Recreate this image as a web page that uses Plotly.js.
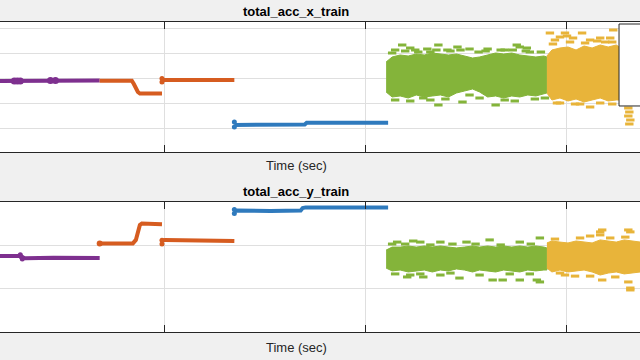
<!DOCTYPE html>
<html>
<head>
<meta charset="utf-8">
<script src="https://cdn.plot.ly/plotly-3.0.1.min.js"></script>
<style>
  html, body { margin:0; padding:0; width:640px; height:360px; overflow:hidden; background:#f0f0f0; }
  #chart { position:absolute; left:-60px; top:0; width:760px; height:360px; }
</style>
</head>
<body>
<div id="chart"></div>
<script>
// ---------- data ----------
const xTicks = [200, 400, 600];
const topYTicks = [1.2, 1.0, 0.8, 0.6, 0.4];
const botYTicks = [0.4, 0.2, 0.0, -0.2];

// top panel: total_acc_x_train
const purpleTopX = [31, 49, 60, 84, 95, 136];
const purpleTopY = [0.784, 0.784, 0.786, 0.788, 0.788, 0.788];
const purpleTopBlobX = [51, 54, 57, 87, 92];
const purpleTopBlobY = [0.784, 0.784, 0.784, 0.788, 0.788];
const orangeTopAX = [136, 168, 170, 172, 174, 176, 198];
const orangeTopAY = [0.786, 0.786, 0.760, 0.728, 0.696, 0.684, 0.684];
const orangeTopBX = [198, 201, 270];
const orangeTopBY = [0.792, 0.792, 0.792];
const orangeTopBlobX = [198, 198];
const orangeTopBlobY = [0.804, 0.776];
const blueTopX = [270, 273, 306, 340, 342, 376, 423];
const blueTopY = [0.432, 0.432, 0.434, 0.436, 0.450, 0.450, 0.450];
const blueTopBlobX = [270, 270];
const blueTopBlobY = [0.456, 0.416];

const greenX = [421, 427, 435, 443, 451, 459, 467, 475, 483, 491, 499, 507, 514, 522, 530, 538, 546, 554, 562, 570, 578, 581];
const greenTopUp = [0.936, 0.976, 0.992, 0.984, 1.0, 0.992, 1.008, 1.0, 0.992, 1.0, 0.984, 0.968, 0.976, 0.992, 1.008, 1.0, 1.008, 0.992, 0.984, 0.976, 0.984, 0.976];
const greenTopLo = [0.696, 0.656, 0.664, 0.648, 0.672, 0.656, 0.664, 0.672, 0.656, 0.688, 0.704, 0.72, 0.696, 0.656, 0.664, 0.648, 0.664, 0.656, 0.672, 0.664, 0.68, 0.688];
const greenTopDotX = [430, 437, 445, 453, 458, 465, 473, 473, 482, 492, 497, 504, 522, 530, 539, 551, 554, 561, 564,
                      427, 440, 450, 462, 471, 485, 495, 513, 520, 535, 547, 560, 575,
                      430, 445, 465, 480, 504, 514, 539, 549, 569, 579];
const greenTopDotY = [1.032, 1.072, 1.048, 1.016, 0.648, 1.016, 1.072, 0.592, 1.032, 1.056, 0.616, 1.04, 1.04, 0.592, 1.032, 1.072, 1.056, 1.048, 1.016,
                      1.008, 1.024, 1.032, 1.04, 1.032, 1.024, 1.032, 1.016, 1.024, 1.032, 1.032, 1.024, 1.016,
                      0.632, 0.624, 0.632, 0.64, 0.672, 0.648, 0.632, 0.624, 0.64, 0.648];

const yellowX = [581, 586, 594, 602, 610, 618, 626, 634, 642, 650, 658, 674, 694];
const yellowTopUp = [0.984, 1.032, 1.048, 1.056, 1.032, 1.064, 1.048, 1.072, 1.056, 1.072, 1.032, 1.032, 1.032];
const yellowTopLo = [0.688, 0.632, 0.648, 0.624, 0.64, 0.616, 0.632, 0.648, 0.624, 0.632, 0.632, 0.632, 0.632];
const yellowTopDotX = [584, 589, 594, 599, 601, 607, 616, 624, 634, 639, 644, 647, 591, 609, 624, 662, 663, 662, 664, 663,
                       587, 604, 619, 631, 646, 594, 614, 634, 646];
const yellowTopDotY = [1.168, 1.112, 1.136, 1.168, 1.144, 1.128, 1.168, 1.112, 1.128, 1.096, 1.128, 1.192, 0.608, 0.6, 0.576, 0.568, 0.536, 0.504, 0.472, 0.44,
                       1.08, 1.096, 1.088, 1.104, 1.096, 0.608, 0.6, 0.608, 0.6];

// bottom panel: total_acc_y_train
const purpleBotX = [31, 47, 56, 62, 70, 90, 136];
const purpleBotY = [0.151, 0.151, 0.151, 0.140, 0.142, 0.143, 0.142];
const purpleBotBlobX = [57, 59, 58];
const purpleBotBlobY = [0.157, 0.137, 0.147];
const orangeBotAX = [136, 139, 169, 172, 174, 176, 178, 198];
const orangeBotAY = [0.209, 0.209, 0.209, 0.225, 0.262, 0.294, 0.301, 0.297];
const orangeBotABlobX = [136];
const orangeBotABlobY = [0.209];
const orangeBotBX = [198, 201, 270];
const orangeBotBY = [0.222, 0.225, 0.220];
const orangeBotBBlobX = [198, 198];
const orangeBotBBlobY = [0.224, 0.206];
const blueBotX = [270, 273, 306, 336, 338, 341, 423];
const blueBotY = [0.358, 0.361, 0.358, 0.361, 0.372, 0.375, 0.375];
const blueBotBlobX = [270, 270];
const blueBotBlobY = [0.365, 0.347];

const greenBotUp = [0.178, 0.192, 0.192, 0.197, 0.192, 0.197, 0.192, 0.197, 0.192, 0.188, 0.192, 0.197, 0.192, 0.197, 0.192, 0.197, 0.192, 0.197, 0.192, 0.197, 0.192, 0.188];
const greenBotLo = [0.095, 0.082, 0.086, 0.077, 0.082, 0.086, 0.077, 0.086, 0.082, 0.091, 0.086, 0.077, 0.086, 0.082, 0.077, 0.086, 0.082, 0.077, 0.086, 0.082, 0.086, 0.086];
const greenBotDotX = [432, 442, 445, 448, 455, 458, 475, 475, 494, 501, 524, 527, 537, 554, 554, 571, 574, 574,
                      427, 440, 465, 487, 510, 535, 565, 430, 455, 485, 514, 544, 564];
const greenBotDotY = [0.215, 0.054, 0.063, 0.220, 0.215, 0.054, 0.215, 0.063, 0.049, 0.215, 0.225, 0.040, 0.040, 0.215, 0.040, 0.040, 0.234, 0.031,
                      0.206, 0.206, 0.202, 0.206, 0.206, 0.202, 0.206, 0.068, 0.068, 0.072, 0.063, 0.068, 0.068];

const yellowBotX = [581, 586, 594, 602, 610, 618, 626, 634, 642, 650, 658, 666, 674, 694];
const yellowBotUp = [0.211, 0.220, 0.215, 0.211, 0.220, 0.215, 0.211, 0.225, 0.220, 0.215, 0.225, 0.220, 0.215, 0.215];
const yellowBotLo = [0.095, 0.077, 0.086, 0.077, 0.082, 0.086, 0.077, 0.063, 0.072, 0.077, 0.068, 0.072, 0.077, 0.077];
const yellowBotDotX = [594, 609, 624, 634, 634, 636, 636, 662, 664, 662, 664, 664,
                       589, 614, 644, 659, 599, 624, 649];
const yellowBotDotY = [0.072, 0.058, 0.243, 0.262, 0.248, 0.271, 0.040, 0.271, 0.262, 0.031, 0.003, -0.006,
                       0.229, 0.234, 0.234, 0.238, 0.063, 0.058, 0.054];

// ---------- styling ----------
const C = {
  purple: '#7e308f',
  orange: '#d65c20',
  blue:   '#2f7abd',
  green:  '#84b43a',
  yellow: '#e8b43a'
};

function lineTrace(x, y, color, ax) {
  return { type:'scatter', mode:'lines', x:x, y:y, xaxis:'x'+ax, yaxis:'y'+ax,
           line:{color:color, width:4}, hoverinfo:'skip', showlegend:false };
}
function blobTrace(x, y, color, ax, size) {
  return { type:'scatter', mode:'markers', x:x, y:y, xaxis:'x'+ax, yaxis:'y'+ax,
           marker:{symbol:'circle', size:size, color:color, line:{width:0}},
           hoverinfo:'skip', showlegend:false };
}
function bandTrace(x, up, lo, color, ax) {
  return { type:'scatter', mode:'lines', x:x.concat(x.slice().reverse()),
           y:up.concat(lo.slice().reverse()), fill:'toself', fillcolor:color,
           xaxis:'x'+ax, yaxis:'y'+ax, line:{color:color, width:1},
           hoverinfo:'skip', showlegend:false };
}
function dotTrace(x, y, color, ax) {
  return { type:'scatter', mode:'markers', x:x, y:y, xaxis:'x'+ax, yaxis:'y'+ax,
           marker:{symbol:'line-ew', size:6, line:{color:color, width:3}},
           hoverinfo:'skip', showlegend:false };
}

const data = [
  lineTrace(purpleTopX, purpleTopY, C.purple, ''),
  blobTrace(purpleTopBlobX, purpleTopY.slice(0, 0).concat(purpleTopBlobY), C.purple, '', 7),
  lineTrace(orangeTopAX, orangeTopAY, C.orange, ''),
  lineTrace(orangeTopBX, orangeTopBY, C.orange, ''),
  blobTrace(orangeTopBlobX, orangeTopBlobY, C.orange, '', 5),
  lineTrace(blueTopX, blueTopY, C.blue, ''),
  blobTrace(blueTopBlobX, blueTopBlobY, C.blue, '', 5),
  bandTrace(greenX, greenTopUp, greenTopLo, C.green, ''),
  dotTrace(greenTopDotX, greenTopDotY, C.green, ''),
  bandTrace(yellowX, yellowTopUp, yellowTopLo, C.yellow, ''),
  dotTrace(yellowTopDotX, yellowTopDotY, C.yellow, ''),

  lineTrace(purpleBotX, purpleBotY, C.purple, '2'),
  blobTrace(purpleBotBlobX, purpleBotBlobY, C.purple, '2', 5),
  lineTrace(orangeBotAX, orangeBotAY, C.orange, '2'),
  blobTrace(orangeBotABlobX, orangeBotABlobY, C.orange, '2', 6),
  lineTrace(orangeBotBX, orangeBotBY, C.orange, '2'),
  blobTrace(orangeBotBBlobX, orangeBotBBlobY, C.orange, '2', 5),
  lineTrace(blueBotX, blueBotY, C.blue, '2'),
  blobTrace(blueBotBlobX, blueBotBlobY, C.blue, '2', 5),
  bandTrace(greenX, greenBotUp, greenBotLo, C.green, '2'),
  dotTrace(greenBotDotX, greenBotDotY, C.green, '2'),
  bandTrace(yellowBotX, yellowBotUp, yellowBotLo, C.yellow, '2'),
  dotTrace(yellowBotDotX, yellowBotDotY, C.yellow, '2')
];

const gridC = '#dfdfdf';
const axC = '#262626';
function xAx(anchor) {
  return { anchor:anchor, range:[-2.985, 713.43], tickvals:xTicks, showticklabels:false,
           ticks:'inside', ticklen:7, tickwidth:1, tickcolor:axC,
           showline:true, linecolor:axC, linewidth:1, mirror:'ticks',
           showgrid:true, gridcolor:gridC, gridwidth:1, zeroline:false, fixedrange:true };
}
function yAx(anchor, domain, range, ticks) {
  return { anchor:anchor, domain:domain, range:range, tickvals:ticks, showticklabels:false,
           ticks:'inside', ticklen:7, tickcolor:axC, showline:true, linecolor:axC, mirror:'ticks',
           showgrid:true, gridcolor:gridC, gridwidth:1, zeroline:false, fixedrange:true };
}

const titleFont = {family:'Liberation Sans, Arial, sans-serif', size:13, color:'#000000', weight:'bold'};
const labelFont = {family:'Liberation Sans, Arial, sans-serif', size:13, color:'#262626'};

const layout = {
  width:760, height:360,
  margin:{l:20, r:20, t:0, b:0, pad:0},
  paper_bgcolor:'#f0f0f0', plot_bgcolor:'#ffffff',
  showlegend:false,
  xaxis: xAx('y'),
  yaxis: yAx('x', [0.57778, 0.93889], [0.216, 1.256], topYTicks),
  xaxis2: xAx('y2'),
  yaxis2: yAx('x2', [0.07778, 0.43889], [-0.2, 0.4], botYTicks),
  annotations: [
    {text:'<b>total_acc_x_train</b>', xref:'paper', yref:'paper', x:0.4667, y:0.9694,
     xanchor:'center', yanchor:'middle', showarrow:false, font:titleFont},
    {text:'Time (sec)', xref:'paper', yref:'paper', x:0.4667, y:0.5389,
     xanchor:'center', yanchor:'middle', showarrow:false, font:labelFont},
    {text:'<b>total_acc_y_train</b>', xref:'paper', yref:'paper', x:0.4667, y:0.4694,
     xanchor:'center', yanchor:'middle', showarrow:false, font:titleFont},
    {text:'Time (sec)', xref:'paper', yref:'paper', x:0.4667, y:0.0361,
     xanchor:'center', yanchor:'middle', showarrow:false, font:labelFont}
  ],
  shapes: [
    {type:'rect', xref:'paper', yref:'paper', x0:0.9153, x1:1.03, y0:0.7056, y1:0.9333,
     fillcolor:'#ffffff', line:{color:axC, width:1}, layer:'above'}
  ]
};

Plotly.newPlot('chart', data, layout, {displayModeBar:false, staticPlot:true});
</script>
</body>
</html>
